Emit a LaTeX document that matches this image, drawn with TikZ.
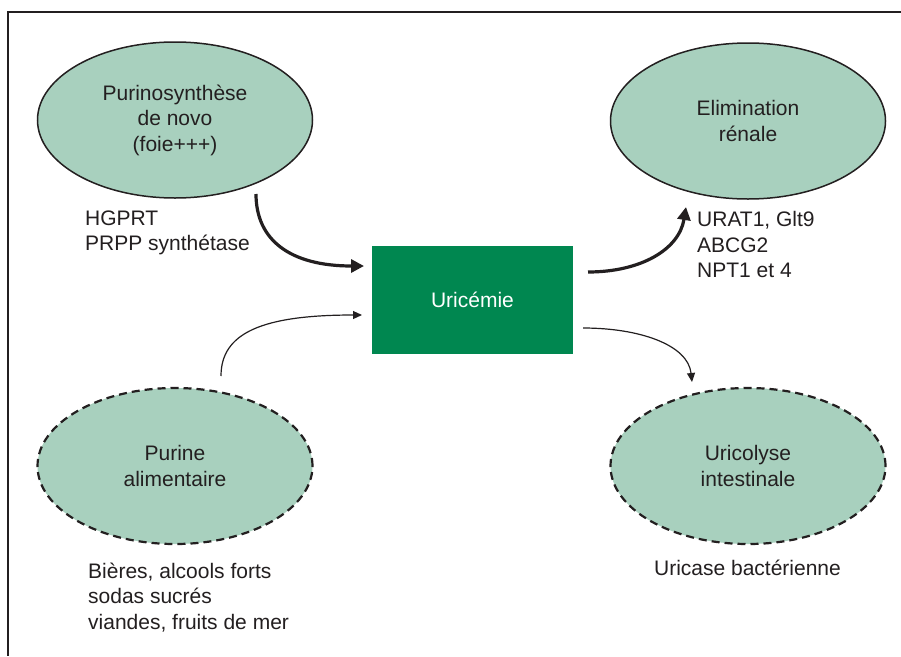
\documentclass[tikz,border=0pt]{standalone}
\usepackage{fontspec}
\setmainfont{Liberation Sans}
\usetikzlibrary{shapes.geometric,arrows.meta}
\definecolor{ellfill}{RGB}{168,208,190}
\definecolor{boxgreen}{RGB}{0,135,80}
\definecolor{ink}{RGB}{35,31,32}
\newcommand\diagfont{\fontsize{21}{25.5}\selectfont}
\begin{document}
\begin{tikzpicture}[x=1pt,y=-1pt,
  bubble/.style={ellipse, fill=ellfill, draw=ink, line width=1.5pt,
    minimum width=275pt, minimum height=156pt, inner sep=0pt,
    align=center, text=ink, font=\diagfont},
  dashbubble/.style={bubble, line width=2.2pt, dash pattern=on 8pt off 5pt},
  greenbox/.style={rectangle, fill=boxgreen, draw=none,
    minimum width=201pt, minimum height=108pt, inner sep=0pt,
    text=white, font=\diagfont},
  note/.style={font=\diagfont, text=ink, align=left, inner sep=0pt, anchor=north west},
  thickarrow/.style={draw=ink, line width=3.2pt, -{Triangle[length=13pt,width=13pt]}},
  thinarrow/.style={draw=ink, line width=1.2pt, -{Triangle[length=9pt,width=8pt]}}]
\useasboundingbox (0,0) rectangle (901,656);
\fill[white] (0,0) rectangle (901,656);
\draw[ink, line width=1.8pt] (901,12) -| (8,656);

\node[bubble] (purino) at (175,120) {Purinosynthèse\\de novo\\(foie+++)};
\node[bubble] (elim) at (748,121) {Elimination\\rénale};
\node[dashbubble] (purali) at (175,466) {Purine\\alimentaire};
\node[dashbubble] (urico) at (748,466) {Uricolyse\\intestinale};
\node[greenbox] (uric) at (472.5,299.5) {Uricémie};

\node[note] (enz) at (85,210.5) {HGPRT\\PRPP synthétase};
\node[note] (trans) at (697,211.5) {URAT1, Glt9\\ABCG2\\NPT1 et 4};
\node[note] (food) at (88,562.5) {Bières, alcools forts\\sodas sucrés\\viandes, fruits de mer};
\node[font=\diagfont, text=ink, inner sep=0pt, anchor=north] (urase) at (747.5,559.5) {Uricase bactérienne};

\coordinate (a1s) at (256,194);
\coordinate (a1e) at (364,266);
\coordinate (a2s) at (588,272);
\coordinate (a2e) at (686,207);
\coordinate (a3s) at (221,376);
\coordinate (a3e) at (362,315);
\coordinate (a4s) at (583,328);
\coordinate (a4e) at (692,382);

\draw[thickarrow] (a1s) .. controls (256,240) and (290,266) .. (a1e);
\draw[thickarrow] (a2s) .. controls (640,272) and (679,250) .. (a2e);
\draw[thinarrow] (a3s) .. controls (221,333) and (262,315) .. (a3e);
\draw[thinarrow] (a4s) .. controls (640,328) and (688,345) .. (a4e);
\end{tikzpicture}
\end{document}
